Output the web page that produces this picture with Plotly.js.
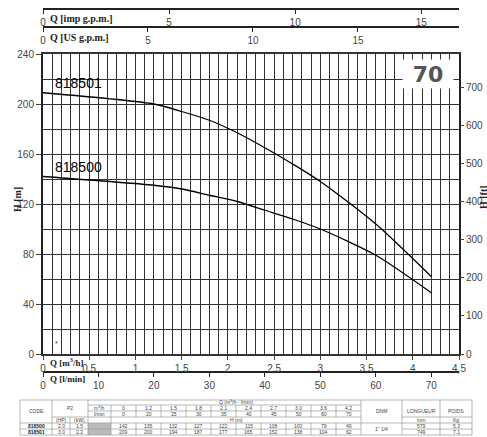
<!DOCTYPE html>
<html><head><meta charset="utf-8">
<script src="https://cdn.plot.ly/plotly-3.0.1.min.js"></script>
<style>html,body{margin:0;padding:0;background:#fff}#chart{width:487px;height:437px}</style>
</head><body><div id="chart"></div>
<script>
// ---- data ----
const qM3h = [0, 1.2, 1.5, 1.8, 2.1, 2.4, 2.7, 3.0, 3.6, 4.2];
const qLmin = [0, 20, 25, 30, 35, 40, 45, 50, 60, 70];
const head818500 = [142, 135, 132, 127, 122, 115, 108, 100, 79, 49];
const head818501 = [209, 200, 194, 187, 177, 165, 152, 138, 104, 62];
const models = ['818500', '818501'];
const powerHP = ['2.0', '3.0'];
const powerKW = ['1.5', '2.2'];
const dnmLabel = '1" 1/4';
const lengthMM = ['579', '749'];
const weightKG = ['5.3', '7.1'];
const pumpSize = '70';

// unit conversions
const M3H_PER_IMPGPM = 0.2727654;
const M3H_PER_USGPM = 0.2271247;
const FT_PER_M = 3.28084;

// ---- layout helpers (pixel -> paper) ----
const L = 43, R = 459, PT = 9, PB = 372;
const px = x => (x - L) / (R - L);
const py = y => (PB - y) / (PB - PT);

const tickFont = {family: 'Liberation Sans, Arial, sans-serif', size: 10, color: '#444'};
const gridC = '#333';

const curveLine = {color: '#000', width: 1.3, shape: 'spline', smoothing: 0.7};
const traces = [
  {x: qM3h, y: head818501, mode: 'lines', line: curveLine, hoverinfo: 'skip', xaxis: 'x', yaxis: 'y'},
  {x: qM3h, y: head818500, mode: 'lines', line: curveLine, hoverinfo: 'skip', xaxis: 'x', yaxis: 'y'},
  // invisible companions so the secondary axes exist
  {x: qM3h.map(q => q / M3H_PER_IMPGPM), y: head818501, mode: 'markers', marker: {opacity: 0}, hoverinfo: 'skip', xaxis: 'x2', yaxis: 'y'},
  {x: qM3h.map(q => q / M3H_PER_USGPM), y: head818501, mode: 'markers', marker: {opacity: 0}, hoverinfo: 'skip', xaxis: 'x3', yaxis: 'y'},
  {x: qLmin, y: head818500, mode: 'markers', marker: {opacity: 0}, hoverinfo: 'skip', xaxis: 'x4', yaxis: 'y'},
  {x: qM3h, y: head818501.map(h => h * FT_PER_M), mode: 'markers', marker: {opacity: 0}, hoverinfo: 'skip', xaxis: 'x', yaxis: 'y2'}
];

const secX = (range, pos) => ({
  overlaying: 'x', anchor: 'free', position: pos, side: 'bottom',
  range: range, dtick: 5, tick0: 0, showgrid: false, zeroline: false,
  showline: true, linecolor: '#222', linewidth: 2,
  ticks: 'outside', ticklen: 4, tickcolor: '#222', tickfont: tickFont, fixedrange: true
});

const layout = {
  width: 487, height: 437,
  margin: {l: 43, r: 28, t: 9, b: 65, pad: 0},
  paper_bgcolor: '#fff', plot_bgcolor: '#fff',
  showlegend: false,
  separators: ', ',
  font: {family: 'Liberation Sans, Arial, sans-serif'},
  xaxis: {
    domain: [0, 1], anchor: 'y', range: [0, 4.5], dtick: 0.5, tick0: 0,
    showgrid: true, gridcolor: gridC, gridwidth: 1,
    minor: {dtick: 0.1, tick0: 0, showgrid: true, gridcolor: gridC, gridwidth: 1, ticks: ''},
    showline: true, linecolor: '#333', linewidth: 2, mirror: true,
    ticks: 'outside', ticklen: 4, tickcolor: '#444', tickfont: tickFont, zeroline: false, fixedrange: true
  },
  yaxis: {
    domain: [py(354), py(54)], anchor: 'x', range: [0, 240], dtick: 40, tick0: 0,
    showgrid: true, gridcolor: gridC, gridwidth: 1,
    minor: {dtick: 20, tick0: 0, showgrid: true, gridcolor: gridC, gridwidth: 1, ticks: ''},
    showline: true, linecolor: '#222', linewidth: 2, mirror: true,
    ticks: 'outside', ticklen: 5, tickcolor: '#444', tickfont: tickFont, zeroline: false, fixedrange: true
  },
  yaxis2: {
    overlaying: 'y', side: 'right', anchor: 'x', range: [0, 240 * FT_PER_M], dtick: 100, tick0: 0,
    showgrid: false, zeroline: false, showline: false,
    ticks: 'outside', ticklen: 4, tickcolor: '#444', tickfont: tickFont, fixedrange: true
  },
  xaxis2: secX([0, 4.5 / M3H_PER_IMPGPM], 1),
  xaxis3: secX([0, 4.5 / M3H_PER_USGPM], py(27)),
  xaxis4: Object.assign(secX([0, 4.5 * 1000 / 60], 0), {dtick: 10}),
  shapes: [],
  annotations: []
};

const ann = layout.annotations, shp = layout.shapes;
const serif = {family: 'Liberation Serif, Times New Roman, serif', size: 10, color: '#222', weight: 'bold'};
const serifS = Object.assign({}, serif, {size: 9});
function txt(x, y, s, font, extra) {
  ann.push(Object.assign({xref: 'paper', yref: 'paper', x: px(x), y: py(y), text: s, showarrow: false,
    xanchor: 'center', yanchor: 'middle', font: font}, extra || {}));
}
// axis captions
txt(48, 19, 'Q [imp g.p.m.]', serif, {xanchor: 'left'});
txt(48, 37, 'Q [US g.p.m.]', serif, {xanchor: 'left'});
txt(48, 362, 'Q [m<sup>3</sup>/h]', serifS, {xanchor: 'left'});
txt(48, 379, 'Q [l/min]', serifS, {xanchor: 'left'});
txt(17, 200, 'H [m]', serif, {textangle: -90});
txt(483, 197, 'H [ft]', serif, {textangle: -90});
// curve labels
const lblFont = {family: 'Liberation Sans, Arial, sans-serif', size: 14, color: '#000'};
txt(53, 83, models[1], lblFont, {xanchor: 'left'});
txt(53, 167, models[0], lblFont, {xanchor: 'left'});
// size badge
txt(428, 74, pumpSize, {family: 'DejaVu Sans, Arial, sans-serif', size: 22, color: '#555', weight: 'bold'},
  {bgcolor: '#fff', borderpad: 2, width: 46, height: 24});
txt(56, 343, '*', {family: 'Liberation Sans', size: 7, color: '#333'});

// ---- table ----
const TL = 20, TR = 472, TT = 400, TB = 435;
const cCode = 52, cP2 = 88, cUnit = 111, qW = 25;
const qEdges = qM3h.map((_, i) => cUnit + qW * i).concat([cUnit + qW * qM3h.length]);
const cQend = qEdges[qEdges.length - 1];
const cDNM = 402, cLen = 440;
const rQ = 405, rMid = 411, rHdr = 417, rSub = 423, rD1 = 429;
const lc = '#999';
function hl(x0, x1, y) { shp.push({type: 'line', xref: 'paper', yref: 'paper', x0: px(x0), x1: px(x1), y0: py(y), y1: py(y), line: {color: lc, width: 0.7}}); }
function vl(x, y0, y1) { shp.push({type: 'line', xref: 'paper', yref: 'paper', x0: px(x), x1: px(x), y0: py(y0), y1: py(y1), line: {color: lc, width: 0.7}}); }
// gray cells
shp.push({type: 'rect', xref: 'paper', yref: 'paper', x0: px(cP2), x1: px(cUnit), y0: py(rSub), y1: py(TB), fillcolor: '#bbb', line: {width: 0}});
// outer frame
hl(TL, TR, TT); hl(TL, TR, TB); vl(TL, TT, TB); vl(TR, TT, TB);
// verticals
vl(cCode, TT, TB); vl(cP2, TT, TB); vl(cUnit, TT + 5, TB);
qEdges.slice(1, -1).forEach(x => vl(x, rQ, rHdr));
qEdges.slice(1, -1).forEach(x => vl(x, rSub, TB));
vl(cQend, TT, TB); vl(cDNM, TT, TB); vl(cLen, TT, TB);
vl((cCode + cP2) / 2, rHdr, TB);
// horizontals
hl(cUnit - 23, cQend, rQ);
hl(cP2, cQend, rMid);
hl(cCode, cQend, rHdr);
hl(TL, TR, rSub);
hl(TL, cQend, rD1); hl(cDNM, TR, rD1);
hl(cDNM, TR, rHdr);

const tf = {family: 'Liberation Sans Narrow, Liberation Sans, Arial, sans-serif', size: 5, color: '#444'};
txt((TL + cCode) / 2, 411, 'CODE', tf);
txt((cCode + cP2) / 2, 408, 'P2', tf);
txt((cCode + (cCode + cP2) / 2) / 2, 420, '(HP)', tf);
txt(((cCode + cP2) / 2 + cP2) / 2, 420, '(kW)', tf);
txt((cP2 + cUnit) / 2, 408, 'm<sup>3</sup>/h', tf);
txt((cP2 + cUnit) / 2, 414, 'l/min', tf);
txt((cUnit + cQend) / 2, 402.5, 'Q (m<sup>3</sup>/h - l/min)', tf);
txt((cUnit + cQend) / 2, 420, 'H (m)', tf);
qM3h.forEach((q, i) => {
  const cx = (qEdges[i] + qEdges[i + 1]) / 2;
  txt(cx, 408, q === 0 ? '0' : q.toFixed(1), tf);
  txt(cx, 414, String(qLmin[i]), tf);
  txt(cx, 426, String(head818500[i]), tf);
  txt(cx, 432, String(head818501[i]), tf);
});
txt((cQend + cDNM) / 2, 411, 'DNM', tf);
txt((cDNM + cLen) / 2, 411, 'LONGUEUR', tf);
txt((cLen + TR) / 2, 411, 'POIDS', tf);
txt((cQend + cDNM) / 2, 429, dnmLabel, tf);
txt((cDNM + cLen) / 2, 420, 'mm', tf);
txt((cLen + TR) / 2, 420, 'Kg', tf);
models.forEach((m, i) => {
  const y = i === 0 ? 426 : 432;
  txt((TL + cCode) / 2, y, m, Object.assign({}, tf, {weight: 'bold', color: '#222'}));
  txt((cCode + (cCode + cP2) / 2) / 2, y, powerHP[i], tf);
  txt(((cCode + cP2) / 2 + cP2) / 2, y, powerKW[i], tf);
  txt((cDNM + cLen) / 2, y, lengthMM[i], tf);
  txt((cLen + TR) / 2, y, weightKG[i], tf);
});

Plotly.newPlot('chart', traces, layout, {staticPlot: true, displayModeBar: false});
</script>
</body></html>
